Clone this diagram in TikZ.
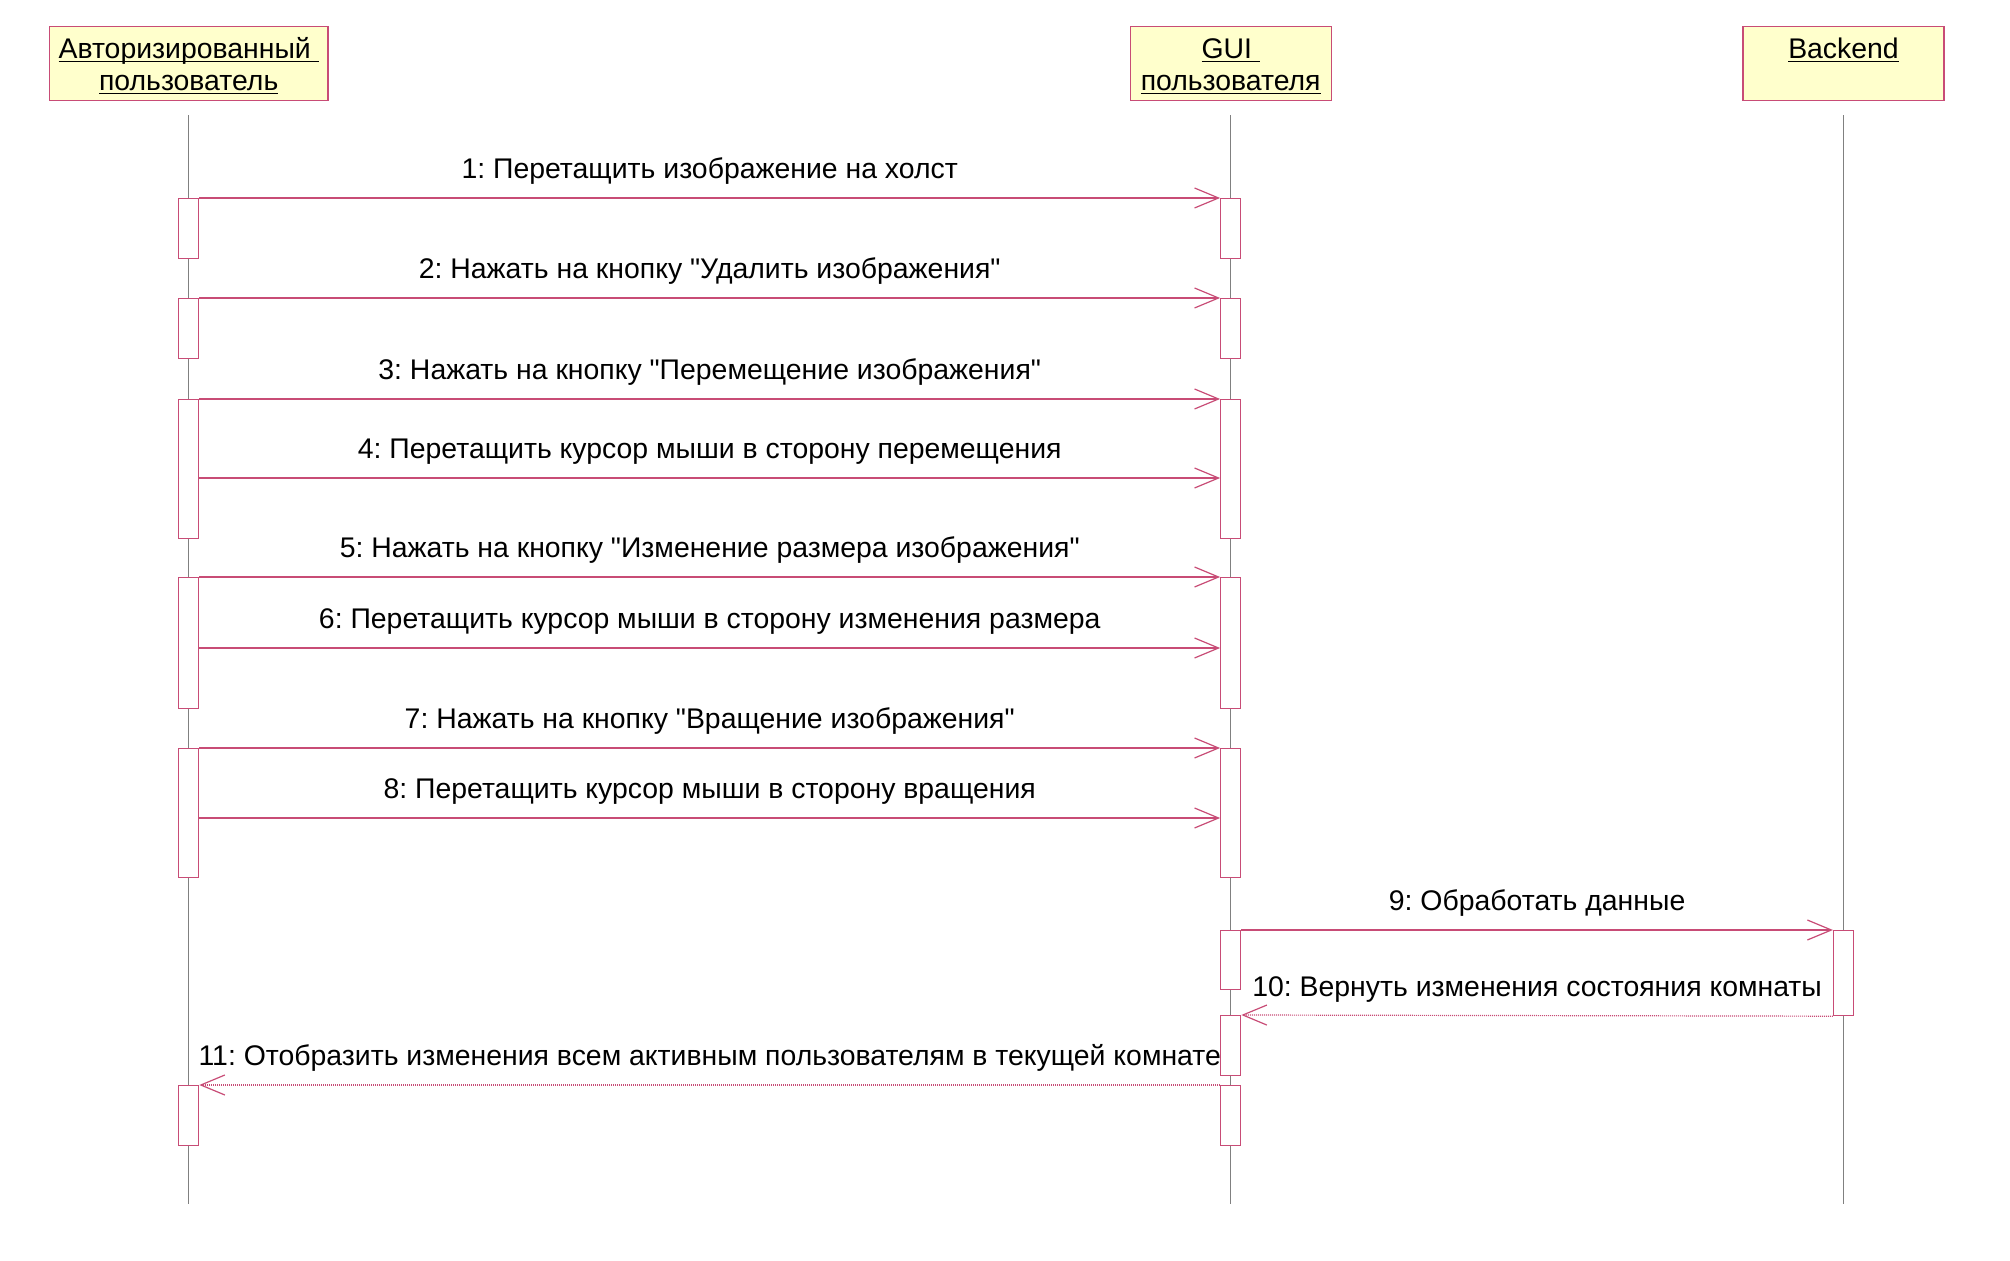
\documentclass[tikz,border=0pt]{standalone}
\usepackage{fontspec}
\setmainfont{Liberation Sans}[Ligatures=TeXOff]
\frenchspacing
\usetikzlibrary{arrows.meta}
\definecolor{rose}{RGB}{200,76,118}
\definecolor{paleyellow}{RGB}{255,255,204}
\definecolor{lifegray}{RGB}{128,128,128}
\newcommand{\uname}[1]{\setbox0\hbox{#1}\rlap{\rule[-1.8pt]{\wd0}{0.7pt}}\box0}

\begin{document}
\begin{tikzpicture}[x=0.5pt,y=-0.5pt,font=\fontsize{14.2}{16}\selectfont,
  headbox/.style={draw=rose,fill=paleyellow,line width=0.6pt,anchor=north,inner sep=0pt,align=center},
  twoline/.style={headbox,text height=32.15pt,text depth=5.15pt},
  oneline/.style={headbox,text height=16.15pt,text depth=21.15pt},
  act/.style={draw=rose,fill=white,line width=0.6pt,anchor=north,minimum width=10pt,inner sep=0pt},
  lifeline/.style={draw=lifegray,line width=0.5pt},
  msg/.style={draw=rose,line width=0.6pt,-{Straight Barb[length=12pt,width=10pt]}},
  reply/.style={msg,dash pattern=on 0.5pt off 0.5pt},
  msgtext/.style={midway,anchor=base,yshift=9.65pt,text=black}]
\useasboundingbox (0,0) rectangle (2010,1261);
\node[twoline,minimum width=139.25pt] (usr) at (188.7,25.7) {\uname{Авторизированный }\\\uname{пользователь}};
\node[twoline,minimum width=100.5pt] (gui) at (1230.7,25.7) {\uname{GUI }\\\uname{пользователя}};
\node[oneline,minimum width=100.5pt] (back) at (1843.5,25.7) {\uname{Backend}};
\coordinate (usrend) at (188.7,1204);
\coordinate (guiend) at (1230.7,1204);
\coordinate (backend) at (1843.5,1204);
\draw[lifeline] ([yshift=-7pt]usr.south) -- (usrend);
\draw[lifeline] ([yshift=-7pt]gui.south) -- (guiend);
\draw[lifeline] ([yshift=-7pt]back.south) -- (backend);
\foreach \n/\y/\h in {1/198/30,2/298/30,3/399/69.5,4/577/65.5,5/748/64.5} {
  \node[act,minimum height=\h pt] (a\n) at (188.7,\y) {};
  \node[act,minimum height=\h pt] (g\n) at (1230.7,\y) {};
}
\node[act,minimum height=30pt] (a6) at (188.7,1085) {};
\node[act,minimum height=29.5pt] (g6) at (1230.7,930) {};
\node[act,minimum height=30pt] (g7) at (1230.7,1015) {};
\node[act,minimum height=30pt] (g8) at (1230.7,1085) {};
\node[act,minimum height=42.5pt] (b1) at (1843.5,930) {};
\coordinate (m4) at (0,478);
\coordinate (m6) at (0,648);
\coordinate (m8) at (0,818);
\draw[msg] (a1.north east) -- node[msgtext] {1: Перетащить изображение на холст} (g1.north west);
\draw[msg] (a2.north east) -- node[msgtext] {2: Нажать на кнопку "Удалить изображения"} (g2.north west);
\draw[msg] (a3.north east) -- node[msgtext] {3: Нажать на кнопку "Перемещение изображения"} (g3.north west);
\draw[msg] (a3.east |- m4) -- node[msgtext] {4: Перетащить курсор мыши в сторону перемещения} (g3.west |- m4);
\draw[msg] (a4.north east) -- node[msgtext] {5: Нажать на кнопку "Изменение размера изображения"} (g4.north west);
\draw[msg] (a4.east |- m6) -- node[msgtext] {6: Перетащить курсор мыши в сторону изменения размера} (g4.west |- m6);
\draw[msg] (a5.north east) -- node[msgtext] {7: Нажать на кнопку "Вращение изображения"} (g5.north west);
\draw[msg] (a5.east |- m8) -- node[msgtext] {8: Перетащить курсор мыши в сторону вращения} (g5.west |- m8);
\draw[msg] (g6.north east) -- node[msgtext] {9: Обработать данные} (b1.north west);
\draw[reply] (b1.south west) -- node[msgtext] {10: Вернуть изменения состояния комнаты} (g7.north east);
\draw[reply] (g8.north west) -- node[msgtext] {11: Отобразить изменения всем активным пользователям в текущей комнате} (a6.north east);
\end{tikzpicture}
\end{document}
